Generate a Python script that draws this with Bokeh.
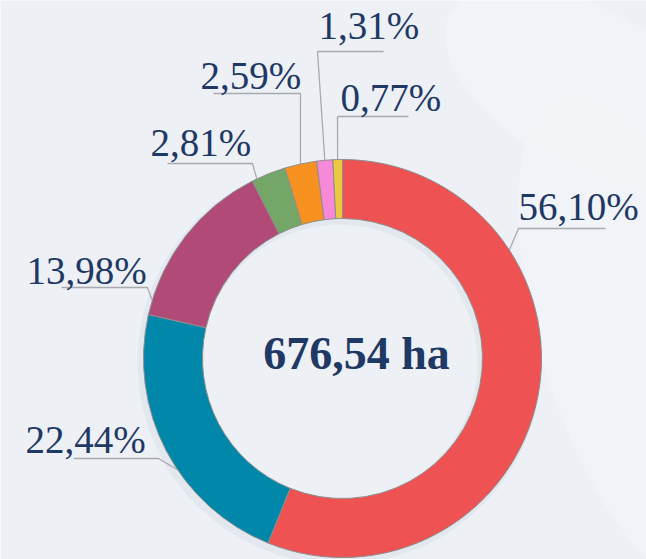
import math
from bokeh.plotting import figure
from bokeh.models import Range1d, ColumnDataSource
from bokeh.core.properties import value
from bokeh.embed import file_html
from bokeh.resources import INLINE

# ---- data ----
shares = [56.10, 22.44, 13.98, 2.81, 2.59, 1.31, 0.77]
colors = ["#EF5252", "#0087A9", "#B24A78", "#73A667", "#F7911F", "#F888D8", "#ECC940"]
total_text = "676,54 ha"
labels = [f"{v:.2f}".replace(".", ",") + "%" for v in shares]

# ---- layout (screen pixel positions of the reference) ----
PAGE_W, PAGE_H = 646, 559
CX, CY = 342, 358
R_OUT, R_IN = 199, 140
# leader anchor angle (deg clockwise from top), label left x, digit-centre y, hline y, hline x0, hline x1
label_layout = [
    (57.0, 518, 206, 228, 518, 605),
    (236.0, 25, 439, 458, 73, 158),
    (287.0, 26, 270, 287, 61, 147),
    (334.5, 150, 142, 163, 167, 252),
    (347.8, 200, 75, 93, 213, 300),
    (354.9, 318, 25, 51, 317, 383),
    (358.6, 340, 97, 116, 337, 408),
]

def Y(py):
    return PAGE_H - py

p = figure(width=PAGE_W, height=PAGE_H, output_backend="svg", toolbar_location=None,
           x_range=Range1d(0, PAGE_W), y_range=Range1d(0, PAGE_H), min_border=0)
p.axis.visible = False
p.grid.visible = False
p.outline_line_color = None
p.background_fill_color = "#EDF1F6"
p.border_fill_color = "#EDF1F6"

# subtle light swooshes in the background
p.ellipse(x=[640, 590], y=[Y(340), Y(90)], width=[200, 320], height=[520, 160],
          angle=[0.3, -0.5], fill_color="white", fill_alpha=0.18, line_color=None)

total = sum(shares)
starts, ends = [], []
cum = 0.0
for v in shares:
    starts.append(math.pi / 2 - 2 * math.pi * cum / total)
    cum += v
    ends.append(math.pi / 2 - 2 * math.pi * cum / total)

src = ColumnDataSource(dict(start=starts, end=ends, color=colors))
# soft shadow
p.annular_wedge(x=CX - 3, y=Y(CY) - 4, inner_radius=R_IN - 2, outer_radius=R_OUT + 3,
                start_angle=0, end_angle=2 * math.pi, fill_color="#9aa3b5", fill_alpha=0.12,
                line_color=None, inner_radius_units="screen", outer_radius_units="screen")
p.annular_wedge(x=CX, y=Y(CY), inner_radius=R_IN, outer_radius=R_OUT,
                start_angle="start", end_angle="end", direction="clock",
                fill_color="color", line_color="#8E8E8E", line_width=1,
                inner_radius_units="screen", outer_radius_units="screen", source=src)

# leader lines
xs, ys = [], []
for ang, tx, ty, ly, lx0, lx1 in label_layout:
    a = math.radians(ang)
    ax = CX + R_OUT * math.sin(a)
    ay = CY - R_OUT * math.cos(a)
    jx = lx1 if abs(lx1 - ax) <= abs(lx0 - ax) else lx0
    other = lx0 if jx == lx1 else lx1
    xs.append([other, jx, ax])
    ys.append([Y(ly), Y(ly), Y(ay)])
p.multi_line(xs=xs, ys=ys, line_color="#A9AAAD", line_width=1.3)

p.text(x=[l[1] for l in label_layout], y=[Y(l[2]) for l in label_layout], text=labels,
       text_font=value("Liberation Serif"), text_font_size="39px", text_color="#1F3864",
       text_align="left", text_baseline="middle")

p.text(x=[356], y=[Y(353)], text=[total_text], text_font=value("Liberation Serif"),
       text_font_size="46px", text_font_style="bold", text_color="#1F3864",
       text_align="center", text_baseline="middle")

open("out.html", "w").write(file_html(p, INLINE))
